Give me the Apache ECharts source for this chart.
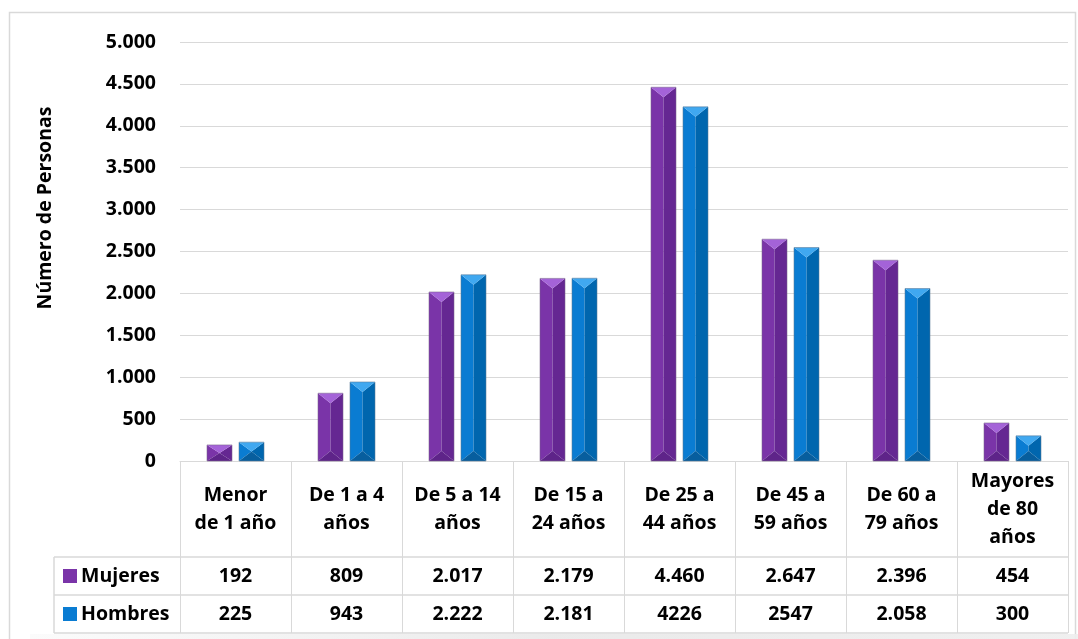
<!DOCTYPE html>
<html>
<head>
<meta charset="utf-8">
<script src="https://cdn.jsdelivr.net/npm/echarts@6/dist/echarts.min.js"></script>
<style>
  html, body { margin: 0; padding: 0; background: #ffffff; }
  #chart { width: 1078px; height: 639px; }
</style>
</head>
<body>
<div id="chart"></div>
<script>
// Age groups (category labels, multi-line)
const categories = [
  'Menor\nde 1 año', 'De 1 a 4\naños', 'De 5 a 14\naños', 'De 15 a\n24 años',
  'De 25 a\n44 años', 'De 45 a\n59 años', 'De 60 a\n79 años', 'Mayores\nde 80\naños'
];

// Number of people per age group
const mujeres = [192, 809, 2017, 2179, 4460, 2647, 2396, 454];
const hombres = [225, 943, 2222, 2181, 4226, 2547, 2058, 300];

// Values as printed in the data table rows
const mujeresText = ['192', '809', '2.017', '2.179', '4.460', '2.647', '2.396', '454'];
const hombresText = ['225', '943', '2.222', '2.181', '4226', '2547', '2.058', '300'];

// Value axis
const yMax = 5000;
const yStep = 500;

const FONT = '"Open Sans", "Noto Sans", sans-serif';
const FS = 19.5;
const GRID_LEFT = 180, GRID_RIGHT = 10, GRID_TOP = 42, GRID_BOTTOM = 178;
const LINE = '#d9d9d9';

const purple = { left: '#7A34A8', right: '#652792', top: '#A463D8', bottom: '#5E2489', stroke: 'rgba(120,100,140,0.55)' };
const blue   = { left: '#0A7CD2', right: '#0066AE', top: '#40A8F0', bottom: '#075E9E', stroke: 'rgba(90,120,150,0.55)' };

function fmt(v) {
  return String(v).replace(/\B(?=(\d{3})+(?!\d))/g, '.');
}

// Bevelled column: top/bottom triangles plus left/right faces
function bevelBar(offset, pal) {
  return function (params, api) {
    const idx = api.value(0);
    const v = api.value(1);
    const topPt = api.coord([idx, v]);
    const basePt = api.coord([idx, 0]);
    const bw = 25;
    const cx = topPt[0] + offset;
    const x0 = cx - bw / 2, x1 = cx + bw / 2;
    const yt = topPt[1], yb = basePt[1];
    const h = Math.min(10, (yb - yt) / 2);
    return {
      type: 'group',
      children: [
        { type: 'polygon', shape: { points: [[x0, yt], [cx, yt + h], [cx, yb - h], [x0, yb]] }, style: { fill: pal.left } },
        { type: 'polygon', shape: { points: [[x1, yt], [cx, yt + h], [cx, yb - h], [x1, yb]] }, style: { fill: pal.right } },
        { type: 'polygon', shape: { points: [[x0, yt], [x1, yt], [cx, yt + h]] }, style: { fill: pal.top } },
        { type: 'polygon', shape: { points: [[x0, yb], [x1, yb], [cx, yb - h]] }, style: { fill: pal.bottom } },
        { type: 'rect', shape: { x: x0, y: yt, width: bw, height: yb - yt }, style: { fill: 'none', stroke: pal.stroke, lineWidth: 1 } }
      ]
    };
  };
}

const chart = echarts.init(document.getElementById('chart'), null, { renderer: 'canvas' });

const plotRight = 1078 - GRID_RIGHT;
const axisY = 639 - GRID_BOTTOM;
const row1 = 557, row2 = 595, row3 = 633, tableLeft = 54;

const labelStyle = { fontFamily: FONT, fontWeight: 'bold', fontSize: FS, color: '#000' };

const option = {
  backgroundColor: '#ffffff',
  animation: false,
  textStyle: { fontFamily: FONT },
  grid: { left: GRID_LEFT, right: GRID_RIGHT, top: GRID_TOP, bottom: GRID_BOTTOM, containLabel: false },
  legend: {
    orient: 'vertical',
    left: 63,
    top: 566,
    padding: 0,
    itemWidth: 14,
    itemHeight: 14,
    itemGap: 18,
    icon: 'rect',
    textStyle: Object.assign({ lineHeight: 20, padding: [0, 0, 0, -1] }, labelStyle),
    data: ['Mujeres', 'Hombres']
  },
  xAxis: [
    {
      type: 'category',
      data: categories,
      position: 'bottom',
      axisLine: { show: true, lineStyle: { color: LINE, width: 1 } },
      axisTick: { show: true, length: row3 - axisY, lineStyle: { color: LINE, width: 1 } },
      axisLabel: Object.assign({ interval: 0, margin: 48, verticalAlign: 'middle', lineHeight: 28 }, labelStyle)
    },
    {
      type: 'category',
      data: mujeresText,
      position: 'bottom',
      offset: 0,
      axisLine: { show: false }, axisTick: { show: false },
      axisLabel: Object.assign({ interval: 0, margin: 115, verticalAlign: 'middle' }, labelStyle)
    },
    {
      type: 'category',
      data: hombresText,
      position: 'bottom',
      offset: 0,
      axisLine: { show: false }, axisTick: { show: false },
      axisLabel: Object.assign({ interval: 0, margin: 153, verticalAlign: 'middle' }, labelStyle)
    }
  ],
  yAxis: {
    type: 'value',
    min: 0,
    max: yMax,
    interval: yStep,
    axisLine: { show: false },
    axisTick: { show: false },
    splitLine: { lineStyle: { color: LINE, width: 1 } },
    axisLabel: Object.assign({ margin: 24, formatter: fmt }, labelStyle)
  },
  series: [
    {
      name: 'Mujeres',
      type: 'custom',
      xAxisIndex: 0,
      itemStyle: { color: purple.left },
      renderItem: bevelBar(-16, purple),
      encode: { x: 0, y: 1 },
      data: mujeres.map((v, i) => [i, v]),
      z: 5
    },
    {
      name: 'Hombres',
      type: 'custom',
      xAxisIndex: 0,
      itemStyle: { color: blue.left },
      renderItem: bevelBar(16, blue),
      encode: { x: 0, y: 1 },
      data: hombres.map((v, i) => [i, v]),
      z: 5
    }
  ],
  graphic: [
    // outer frame
    { type: 'rect', shape: { x: 9.5, y: 12.5, width: 1066, height: 660 }, style: { fill: 'none', stroke: LINE, lineWidth: 1.5 }, z: 0, silent: true },
    // soft shadow strip along the bottom edge
    {
      type: 'rect', shape: { x: 30, y: 634, width: 1048, height: 5 }, silent: true, z: 0,
      style: { fill: new echarts.graphic.LinearGradient(0, 0, 1, 0, [
        { offset: 0, color: 'rgba(235,235,235,0.2)' }, { offset: 0.5, color: 'rgba(232,232,232,0.9)' }, { offset: 1, color: 'rgba(238,238,238,0.9)' }
      ]) }
    },
    // data table row separators
    { type: 'line', shape: { x1: tableLeft, y1: row1, x2: plotRight, y2: row1 }, style: { stroke: LINE, lineWidth: 1.5 }, silent: true },
    { type: 'line', shape: { x1: tableLeft, y1: row2, x2: plotRight, y2: row2 }, style: { stroke: LINE, lineWidth: 1.5 }, silent: true },
    { type: 'line', shape: { x1: tableLeft, y1: row3, x2: plotRight, y2: row3 }, style: { stroke: LINE, lineWidth: 1.5 }, silent: true },
    { type: 'line', shape: { x1: tableLeft, y1: row1, x2: tableLeft, y2: row3 }, style: { stroke: LINE, lineWidth: 1.5 }, silent: true },
    // value axis title
    {
      type: 'text',
      x: 45, y: 208,
      rotation: Math.PI / 2,
      style: {
        text: 'Número de Personas',
        fontFamily: FONT, fontWeight: 'bold', fontSize: FS, fill: '#000',
        align: 'center', verticalAlign: 'middle'
      }
    }
  ]
};

chart.setOption(option);
</script>
</body>
</html>
